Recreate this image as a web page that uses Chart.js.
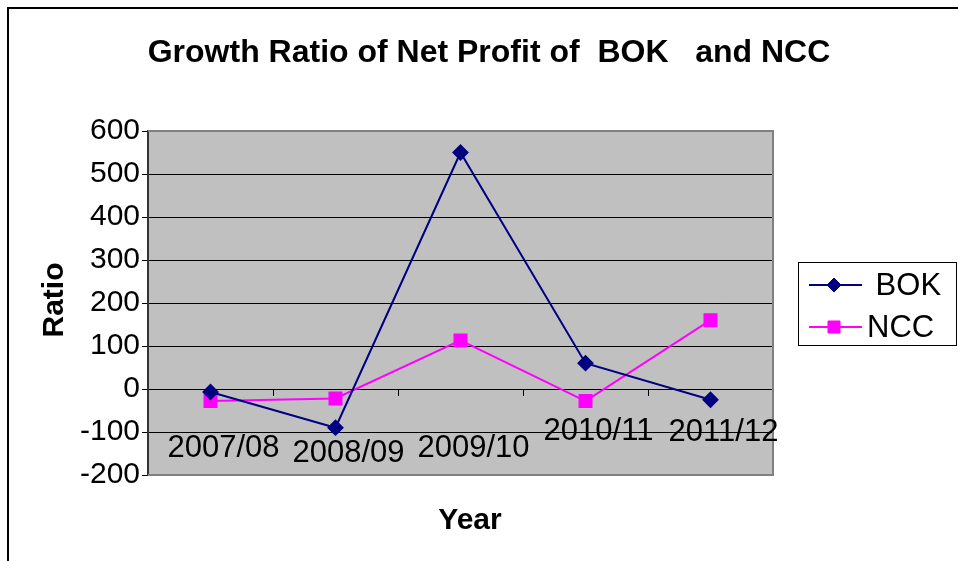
<!DOCTYPE html>
<html>
<head>
<meta charset="utf-8">
<script src="https://cdn.jsdelivr.net/npm/chart.js@4.4.1/dist/chart.umd.min.js"></script>
<style>
  html, body { margin: 0; padding: 0; background: #fff; }
  canvas { display: block; }
</style>
</head>
<body>
<canvas id="myChart" width="958" height="561"></canvas>
<script>
// --- DONNÉES ---
const annees = ['2007/08', '2008/09', '2009/10', '2010/11', '2011/12'];
const bok = [-7, -90, 550, 60, -25];
const ncc = [-28, -22, 113, -28, 160];
const nomsSeries = [' BOK', 'NCC'];
const yMin = -200, yMax = 600, yPas = 100;

const titre = 'Growth Ratio of Net Profit of  BOK   and NCC';
const titreX = 'Year';
const titreY = 'Ratio';

const police = "'Liberation Sans', Arial, sans-serif";
// décalage vertical des étiquettes de catégorie sous l'axe (comme dans l'original)
const decalEtiq = [59, 64, 59, 42, 43];

const ctx = document.getElementById('myChart').getContext('2d');

const decor = {
    id: 'decor',
    beforeDraw(chart) {
        const { ctx, chartArea: a } = chart;
        ctx.save();
        ctx.fillStyle = '#fff';
        ctx.fillRect(0, 0, chart.width, chart.height);
        // cadre extérieur
        ctx.strokeStyle = '#000';
        ctx.lineWidth = 2;
        ctx.beginPath();
        ctx.moveTo(8, chart.height);
        ctx.lineTo(8, 8);
        ctx.lineTo(chart.width, 8);
        ctx.stroke();
        // zone de traçage grise
        ctx.fillStyle = '#c0c0c0';
        ctx.fillRect(a.left, a.top, a.right - a.left, a.bottom - a.top);
        ctx.restore();
    },
    beforeDatasetsDraw(chart) {
        const { ctx, chartArea: a } = chart;
        ctx.save();
        ctx.strokeStyle = '#808080';
        ctx.lineWidth = 2;
        ctx.beginPath();
        ctx.moveTo(a.left, a.top);
        ctx.lineTo(a.right, a.top);
        ctx.lineTo(a.right, a.bottom);
        ctx.lineTo(a.left, a.bottom);
        ctx.stroke();
        ctx.restore();
    },
    afterDraw(chart) {
        const { ctx, scales } = chart;
        ctx.save();
        ctx.fillStyle = '#000';
        ctx.textAlign = 'center';
        ctx.textBaseline = 'middle';

        // titre
        ctx.font = 'bold 32px ' + police;
        ctx.fillText(titre, 489, 53);

        // titres des axes
        ctx.font = 'bold 30px ' + police;
        ctx.fillText(titreX, 470, 521);
        ctx.save();
        ctx.translate(55, 300);
        ctx.rotate(-Math.PI / 2);
        ctx.fillText(titreY, 0, 0);
        ctx.restore();

        // étiquettes de catégorie
        ctx.font = '31px ' + police;
        const y0 = scales.y.getPixelForValue(0);
        annees.forEach((lab, i) => {
            ctx.fillText(lab, scales.x.getPixelForValue(i) + 13, y0 + decalEtiq[i]);
        });

        // légende
        ctx.strokeStyle = '#000';
        ctx.lineWidth = 1;
        ctx.strokeRect(798.5, 262.5, 158, 83);
        ctx.textAlign = 'left';
        ctx.font = '31px ' + police;
        const lignesY = [285, 327];
        chart.data.datasets.forEach((ds, i) => {
            const ly = lignesY[i];
            ctx.strokeStyle = ds.borderColor;
            ctx.lineWidth = ds.borderWidth;
            ctx.beginPath();
            ctx.moveTo(809, ly);
            ctx.lineTo(862, ly);
            ctx.stroke();
            ctx.fillStyle = ds.pointBackgroundColor;
            ctx.strokeStyle = ds.pointBorderColor;
            ctx.lineWidth = 1;
            Chart.helpers.drawPoint(ctx, { pointStyle: ds.pointStyle, radius: ds.pointRadius, rotation: 0, borderWidth: 1 }, 834, ly);
            ctx.fillStyle = '#000';
            ctx.fillText(ds.label, 867, ly + 1);
        });
        ctx.restore();
    }
};

const config = {
    type: 'line',
    data: {
        labels: annees,
        datasets: [
            {
                label: nomsSeries[0],
                data: bok,
                borderColor: '#000080',
                borderWidth: 2,
                pointStyle: 'rectRot',
                pointRadius: 7,
                pointBackgroundColor: '#000080',
                pointBorderColor: '#000080',
                tension: 0
            },
            {
                label: nomsSeries[1],
                data: ncc,
                borderColor: '#ff00ff',
                borderWidth: 2,
                pointStyle: 'rect',
                pointRadius: 8.5,
                pointBackgroundColor: '#ff00ff',
                pointBorderColor: '#ff00ff',
                tension: 0
            }
        ]
    },
    options: {
        responsive: false,
        animation: false,
        devicePixelRatio: 1,
        layout: { padding: { left: 0, top: 131, right: 185, bottom: 86 } },
        plugins: {
            legend: { display: false },
            title: { display: false },
            tooltip: { enabled: false }
        },
        scales: {
            x: {
                type: 'category',
                offset: true,
                position: { y: 0 },
                border: { color: '#000', width: 1 },
                grid: { offset: true, drawOnChartArea: false, drawTicks: true, tickLength: 6, color: '#000' },
                ticks: { display: false },
                afterFit: (s) => { s.paddingLeft = 0; s.paddingRight = 0; }
            },
            y: {
                min: yMin,
                max: yMax,
                border: { color: '#333', width: 2 },
                grid: { color: '#000', lineWidth: 1, drawTicks: true, tickLength: 6 },
                ticks: {
                    stepSize: yPas,
                    padding: 2,
                    color: '#000',
                    font: { family: police, size: 30 }
                },
                afterFit: (s) => { s.width = 148; s.paddingTop = 0; s.paddingBottom = 0; }
            }
        }
    },
    plugins: [decor]
};

const myChart = new Chart(ctx, config);
</script>
</body>
</html>
